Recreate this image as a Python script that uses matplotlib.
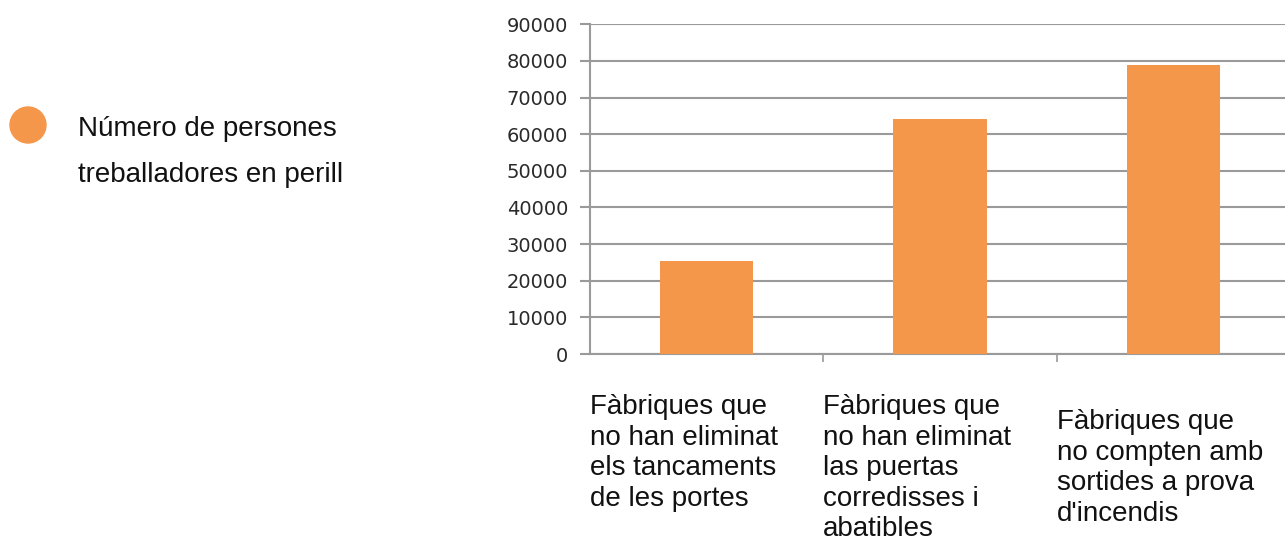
import numpy as np
import matplotlib.pyplot as plt
from matplotlib.patches import Circle

categories = ["Fàbriques que\nno han eliminat\nels tancaments\nde les portes",
              "Fàbriques que\nno han eliminat\nlas puertas\ncorredisses i\nabatibles",
              "Fàbriques que\nno compten amb\nsortides a prova\nd'incendis"]
values = [25500, 64200, 79000]
yticks = np.arange(0, 90001, 10000)
legend_label = "Número de persones\ntreballadores en perill"

orange = '#F5974A'
txt_font = dict(family='Liberation Sans', fontsize=20)

fig = plt.figure(figsize=(12.85, 5.43), dpi=100)
ax = fig.add_axes([590/1285, 1-354/543, 700/1285, (354-24.3)/543])

x = np.arange(len(values))
ax.bar(x, values, width=0.4, color=orange, zorder=3)
ax.set_xlim(-0.5, 2.5)
ax.set_ylim(0, 90000)
ax.set_yticks(yticks)
ax.set_yticklabels([str(v) for v in yticks], fontsize=14, color='#2a2a2a',
                   family='DejaVu Sans')
ax.yaxis.grid(True, color='#9a9a9a', linewidth=1.5, zorder=0)
ax.tick_params(axis='y', length=7.2, width=1.5, color='#9a9a9a', pad=8.5)
ax.set_xticks([0.5, 1.5])
ax.set_xticklabels([])
ax.tick_params(axis='x', length=5.8, width=1.2, color='#9a9a9a')
for s in ['top', 'right']:
    ax.spines[s].set_visible(False)
for s in ['left', 'bottom']:
    ax.spines[s].set_color('#9a9a9a')
    ax.spines[s].set_linewidth(1.5)

# labels hang below the category boundaries, third one a bit lower
offsets = [-40, -40, -55]
for i, lab in enumerate(categories):
    ax.annotate(lab, xy=(i - 0.5, 0), xycoords=('data', 'axes fraction'),
                xytext=(0, offsets[i]), textcoords='offset pixels',
                ha='left', va='top', linespacing=1.23, color='#111111',
                **txt_font)

leg_ax = fig.add_axes([0, 0, 1, 1], facecolor='none')
leg_ax.set_xlim(0, 1285)
leg_ax.set_ylim(543, 0)
leg_ax.axis('off')
leg_ax.add_patch(Circle((28, 125), 18, color=orange))
for k, line in enumerate(legend_label.split('\n')):
    leg_ax.text(78, 136 + 46 * k, line, ha='left', va='baseline',
                color='#111111', **txt_font)

fig.savefig('out.png', dpi=100)
